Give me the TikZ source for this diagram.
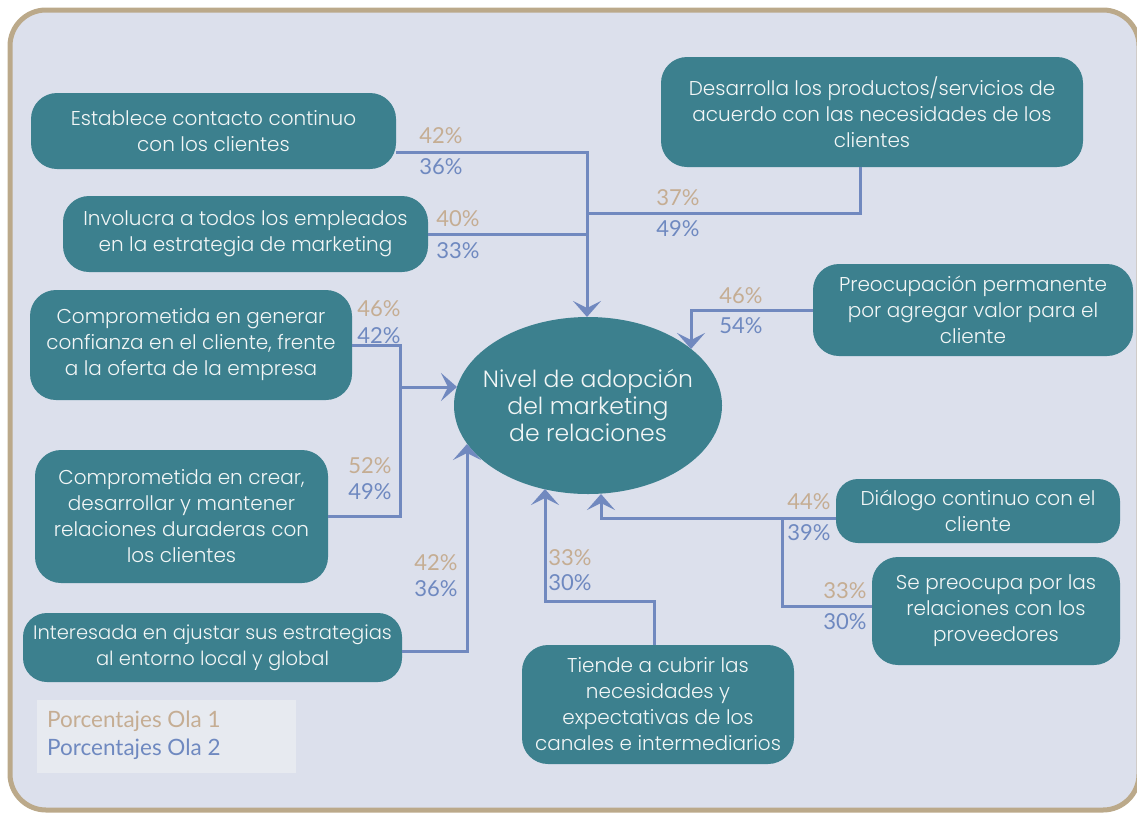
\documentclass[tikz,border=0pt]{standalone}
\usepackage{fontspec}
\setmainfont{Poppins Light}
\newfontfamily\numfont{Lato}
\usetikzlibrary{arrows.meta,shapes.geometric,calc}

\definecolor{boxteal}{HTML}{3C808E}
\definecolor{cardtext}{HTML}{F2F6F6}
\definecolor{bginner}{HTML}{DCE0EC}
\definecolor{frametan}{HTML}{BBA98A}
\definecolor{linkblue}{HTML}{7189BF}
\definecolor{tanpct}{HTML}{C5AD93}
\definecolor{bluepct}{HTML}{6F89C0}
\definecolor{legendbg}{HTML}{E7EAF0}

\begin{document}
\begin{tikzpicture}[x=1pt,y=-1pt,
  card/.style={fill=boxteal, rounded corners=26pt, text=cardtext, align=center,
    font=\fontsize{20}{26}\selectfont, inner sep=0pt},
  link/.style={draw=linkblue, line width=3pt},
  tip/.style={-{Stealth[length=16pt,width=28pt,inset=7pt]}},
  pa/.style={text=tanpct, font=\numfont\fontsize{22}{22}\selectfont, inner sep=0pt},
  pb/.style={text=bluepct, font=\numfont\fontsize{22}{22}\selectfont, inner sep=0pt},
  lg/.style={font=\numfont\fontsize{22.5}{22.5}\selectfont, inner sep=0pt, anchor=west}]

\useasboundingbox (0,0) rectangle (1137,814);

% outer frame
\draw[fill=bginner, draw=frametan, line width=5pt, rounded corners=36pt]
  (10,10) rectangle (1139,810);

% central ellipse
\node[ellipse, fill=boxteal, text=cardtext, align=center, minimum width=268pt,
  minimum height=177pt, inner xsep=-30pt, inner ysep=-20pt,
  font=\fontsize{23.5}{27}\selectfont]
  (core) at (588,405.5) {Nivel de adopción\\del marketing\\de relaciones};

% cards
\node[card, minimum width=365pt, minimum height=76pt] (b1) at (213.5,131)
  {Establece contacto continuo\\con los clientes};
\node[card, minimum width=365pt, minimum height=76pt] (b2) at (245.5,234)
  {Involucra a todos los empleados\\en la estrategia de marketing};
\node[card, minimum width=322pt, minimum height=110pt] (b3) at (191,345)
  {Comprometida en generar\\confianza en el cliente, frente\\a la oferta de la empresa};
\node[card, minimum width=293pt, minimum height=133pt] (b4) at (181.5,516.5)
  {Comprometida en crear,\\desarrollar y mantener\\relaciones duraderas con\\los clientes};
\node[card, minimum width=379pt, minimum height=69pt, rounded corners=24pt,
  font=\fontsize{19.5}{26}\selectfont] (b5) at (212.5,647.5)
  {Interesada en ajustar sus estrategias\\al entorno local y global};
\node[card, minimum width=422pt, minimum height=110pt] (b6) at (872,112)
  {Desarrolla los productos/servicios de\\acuerdo con las necesidades de los\\clientes};
\node[card, minimum width=320pt, minimum height=92pt] (b7) at (973,310)
  {Preocupación permanente\\por agregar valor para el\\cliente};
\node[card, minimum width=284pt, minimum height=64pt, rounded corners=22pt] (b8) at (978,511)
  {Diálogo continuo con el\\cliente};
\node[card, minimum width=248pt, minimum height=108pt] (b9) at (996,611)
  {Se preocupa por las\\relaciones con los\\proveedores};
\node[card, minimum width=272pt, minimum height=119pt] (b10) at (658,704.5)
  {Tiende a cubrir las\\necesidades y\\expectativas de los\\canales e intermediarios};

% arrow tips on the ellipse border
\coordinate (tA) at (587,317);
\coordinate (tD) at (691,349);
\coordinate (tE) at (457,387);
\coordinate (tG) at (467,444);
\coordinate (tH) at (545,489);
\coordinate (tI) at (601,494);
% junctions
\coordinate (jA) at (587,152);
\coordinate (jE) at (400,387);
\coordinate (jI) at (782,518);

% connectors
\draw[link,tip] ($(b1.east)+(0,21)$) -| (tA);
\draw[link] (b2.east) -- (b2.east -| jA);
\draw[link] ($(b6.south)+(-12,0)$) |- (587,213);
\draw[link,tip] (b7.west) -| (tD);
\draw[link] (b3.east) -| (jE);
\draw[link] (b4.east) -| (jE);
\draw[link,tip] (jE) -- (tE);
\draw[link,tip] ($(b5.east)+(0,4)$) -| (tG);
\draw[link,tip] ($(b10.north)+(-4,0)$) |- (545,601) -- (tH);
\draw[link,tip] ($(b8.west)+(0,7)$) -| (tI);
\draw[link] ($(b9.west)+(0,-5)$) -| (jI);

% percentages
\node[pa] (p1a) at (441,136) {42\%};  \node[pb] (p1b) at (441,167) {36\%};
\node[pa] (p2a) at (458,219) {40\%};  \node[pb] (p2b) at (458,251) {33\%};
\node[pa] (p6a) at (678,198) {37\%};  \node[pb] (p6b) at (678,229) {49\%};
\node[pa] (p7a) at (741,296) {46\%};  \node[pb] (p7b) at (741,326) {54\%};
\node[pa] (p3a) at (379,309) {46\%};  \node[pb] (p3b) at (379,336) {42\%};
\node[pa] (p4a) at (370,466) {52\%};  \node[pb] (p4b) at (370,492) {49\%};
\node[pa] (p5a) at (436,563) {42\%};  \node[pb] (p5b) at (436,589) {36\%};
\node[pa] (p10a) at (570,558) {33\%}; \node[pb] (p10b) at (570,583) {30\%};
\node[pa] (p8a) at (809,502) {44\%};  \node[pb] (p8b) at (809,533) {39\%};
\node[pa] (p9a) at (845,591) {33\%};  \node[pb] (p9b) at (845,622) {30\%};

% legend
\fill[legendbg] (37,700) rectangle (296,773);
\node[lg, text=tanpct] (lg1) at (47,721) {Porcentajes Ola 1};
\node[lg, text=bluepct] (lg2) at (47,749) {Porcentajes Ola 2};
\end{tikzpicture}
\end{document}
